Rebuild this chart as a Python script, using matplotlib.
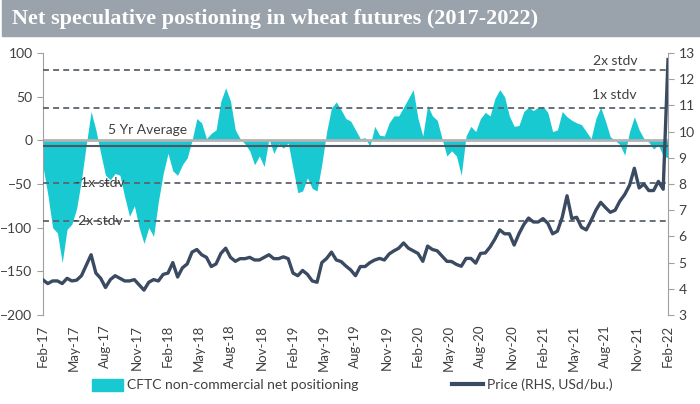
import matplotlib
matplotlib.use("Agg")
import matplotlib.pyplot as plt
import matplotlib.dates as mdates
from matplotlib.patches import Rectangle, Patch
from matplotlib.lines import Line2D
import pandas as pd

# CFTC non-commercial net positioning (thousand contracts), roughly bi-weekly
cftc = [-30, -62, -100, -106, -140, -102, -96, -78, -45, -5,
        33, 12, -15, -40, -45, -38, -40, -65, -87, -75,
        -100, -118, -100, -110, -70, -38, -15, -35, -40, -28,
        -20, 0, 25, 20, 2, 8, 12, 45, 60, 45,
        12, 2, -4, -12, -28, -18, -30, 2, -15, -4,
        -9, -3, -32, -60, -58, -43, -55, -58, -27, 10,
        37, 44, 35, 25, 22, 12, 2, 3, -7, 16,
        6, 5, 20, 28, 28, 38, 48, 58, 25, 5,
        40, 28, 23, 2, -18, -12, -18, -40, 5, 16,
        10, 25, 32, 28, 48, 58, 50, 28, 16, 17,
        33, 38, 34, 38, 39, 32, 10, 12, 33, 27,
        23, 20, 18, 10, 2, 25, 38, 22, 4, 0,
        -5, -17, 10, 27, 12, 2, -2, -10, -5, -18,
        -20]

# wheat price, USd/bu.
price = [4.34, 4.2, 4.3, 4.3, 4.2, 4.4, 4.3, 4.33, 4.5, 4.9,
         5.3, 4.6, 4.4, 4.05, 4.35, 4.5, 4.4, 4.3, 4.3, 4.35,
         4.15, 3.95, 4.25, 4.35, 4.3, 4.55, 4.6, 5.0, 4.45, 4.8,
         4.95, 5.4, 5.5, 5.3, 5.2, 4.85, 4.95, 5.35, 5.55, 5.2,
         5.05, 5.15, 5.15, 5.2, 5.1, 5.1, 5.2, 5.3, 5.15, 5.15,
         5.22, 5.15, 4.6, 4.5, 4.7, 4.55, 4.3, 4.25, 5.0, 5.16,
         5.4, 5.1, 5.04, 4.87, 4.72, 4.5, 4.85, 4.85, 5.0, 5.1,
         5.16, 5.1, 5.33, 5.45, 5.55, 5.75, 5.55, 5.45, 5.35, 5.05,
         5.63, 5.5, 5.45, 5.25, 5.05, 5.04, 4.93, 4.86, 5.16, 5.16,
         4.98, 5.35, 5.37, 5.6, 5.9, 6.25, 6.1, 6.1, 5.67, 6.1,
         6.45, 6.7, 6.55, 6.55, 6.68, 6.5, 6.1, 6.2, 6.73, 7.55,
         6.68, 6.73, 6.35, 6.25, 6.6, 7.0, 7.3, 7.1, 6.92, 7.0,
         7.35, 7.6, 7.95, 8.6, 7.85, 8.0, 7.75, 7.75, 8.1, 7.8,
         12.75]

dates = pd.date_range("2017-02-07", "2022-02-07", periods=len(cftc))
tick_dates = pd.date_range("2017-02-07", periods=21, freq=pd.DateOffset(months=3))

avg = -6
std = 43
levels = [avg + 2 * std, avg + std, avg - std, avg - 2 * std]

FILL = "#19c9d1"
NAVY = "#3a4a61"
DASH = "#5b646e"
SANS = "Lato"

fig = plt.figure(figsize=(7, 4.04), dpi=100)
fig.patches.append(Rectangle((2 / 700, 1 - 36 / 404), 1, 36 / 404,
                             transform=fig.transFigure, color="#9aa3ab", zorder=0))
fig.text(12 / 700, 1 - 19 / 404, "Net speculative postioning in wheat futures (2017-2022)",
         color="white", fontsize=16, fontweight="bold", family="Liberation Serif",
         va="center", ha="left")

ax = fig.add_axes([43 / 700, 1 - 315 / 404, 625 / 700, 262 / 404])
ax.fill_between(dates, 0, cftc, color=FILL, lw=0, zorder=1)
ax.axhline(0, color="#b3b3b3", lw=2, zorder=2)
ax.axhline(avg, color="#4e5862", lw=1.5, zorder=3)
for lv in levels:
    ax.axhline(lv, color=DASH, lw=1.3, ls=(0, (3.3, 2.3)), zorder=3)

ax.set_ylim(-200, 100)
ax.set_yticks(range(-200, 101, 50))
ax.set_xlim(dates[0], dates[-1])
ax.set_xticks(tick_dates)
ax.xaxis.set_major_formatter(mdates.DateFormatter("%b-%y"))
ax.tick_params(axis="x", length=0, pad=7, labelrotation=90, labelsize=9.5,
               labelcolor="#404040")
ax.tick_params(axis="y", length=4, color="#a0a0a0", labelsize=10, labelcolor="#404040")
for lab in ax.get_xticklabels() + ax.get_yticklabels():
    lab.set_family(SANS)
for s in ["top", "bottom", "right"]:
    ax.spines[s].set_visible(False)
ax.spines["left"].set_color("#a0a0a0")

lbl = dict(fontsize=10, color="#404040", family=SANS, va="center", ha="left", zorder=4)
ax.text(0.104, 12, "5 Yr Average", transform=ax.get_yaxis_transform(), **lbl)
ax.text(0.051, levels[2], "-1x stdv", transform=ax.get_yaxis_transform(), **lbl)
ax.text(0.048, levels[3], "-2x stdv", transform=ax.get_yaxis_transform(), **lbl)
ax.text(0.878, 52, "1x stdv", transform=ax.get_yaxis_transform(), **lbl)
ax.text(0.880, 91, "2x stdv", transform=ax.get_yaxis_transform(), **lbl)

ax2 = ax.twinx()
ax2.plot(dates, price, color=NAVY, lw=2.4, solid_joinstyle="round", zorder=5)
ax2.set_ylim(3, 13)
ax2.set_yticks(range(3, 14))
ax2.tick_params(axis="y", length=4, color="#a0a0a0", labelsize=10, labelcolor="#404040")
for lab in ax2.get_yticklabels():
    lab.set_family(SANS)
for s in ["top", "bottom", "left"]:
    ax2.spines[s].set_visible(False)
ax2.spines["right"].set_color("#a0a0a0")

leg_kw = dict(frameon=False, borderpad=0, borderaxespad=0, handlelength=2.2,
              handletextpad=0.3, loc="center left",
              prop={"family": SANS, "size": 10})
leg1 = fig.legend([Patch(color=FILL)], ["CFTC non-commercial net positioning"],
                  bbox_to_anchor=(92 / 700, 1 - 385 / 404), handleheight=1.0, **leg_kw)
leg2 = fig.legend([Line2D([], [], color=NAVY, lw=3)], ["Price (RHS, USd/bu.)"],
                  bbox_to_anchor=(452 / 700, 1 - 385 / 404), **leg_kw)
for lg in (leg1, leg2):
    for t in lg.get_texts():
        t.set_color("#404040")

fig.savefig("out.png", dpi=100)
